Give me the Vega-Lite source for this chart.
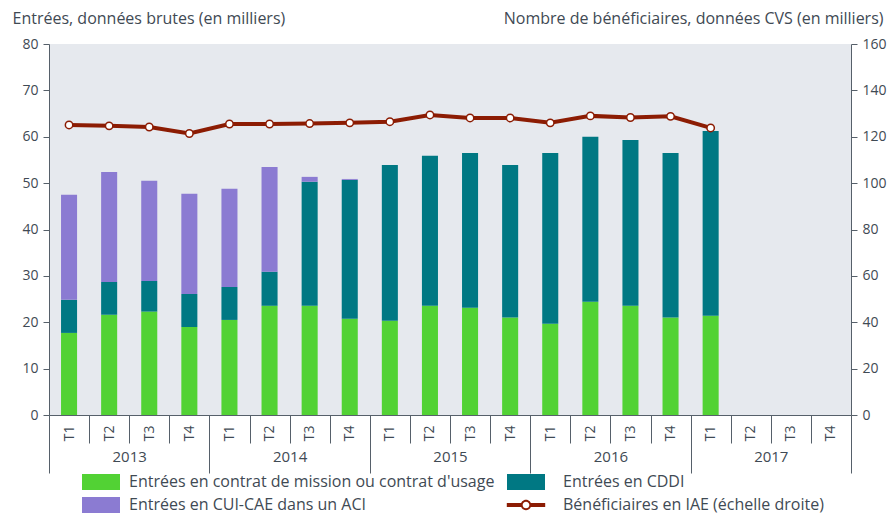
{
  "$schema": "https://vega.github.io/schema/vega-lite/v6.json",
  "width": 802,
  "height": 371,
  "autosize": {"type": "none"},
  "padding": {"left": 49, "top": 44, "right": 42, "bottom": 100},
  "background": "white",
  "config": {
    "font": "Open Sans",
    "view": {"fill": "#e6e9ee", "stroke": null},
    "axis": {
      "labelFont": "Open Sans",
      "labelFontSize": 14,
      "labelColor": "#3f4a54",
      "domainColor": "#56606a",
      "tickColor": "#56606a",
      "grid": false,
      "titleFont": "Open Sans",
      "titleFontSize": 16,
      "titleFontWeight": "normal",
      "titleColor": "#3f4a54"
    }
  },
  "datasets": {
    "entrees": [
      {"annee": "2013", "periode": "2013-T1", "serie": "Entrées en contrat de mission ou contrat d'usage", "ordre": 1, "valeur": 17.7},
      {"annee": "2013", "periode": "2013-T1", "serie": "Entrées en CDDI", "ordre": 2, "valeur": 7.15},
      {"annee": "2013", "periode": "2013-T1", "serie": "Entrées en CUI-CAE dans un ACI", "ordre": 3, "valeur": 22.65},
      {"annee": "2013", "periode": "2013-T2", "serie": "Entrées en contrat de mission ou contrat d'usage", "ordre": 1, "valeur": 21.6},
      {"annee": "2013", "periode": "2013-T2", "serie": "Entrées en CDDI", "ordre": 2, "valeur": 7.1},
      {"annee": "2013", "periode": "2013-T2", "serie": "Entrées en CUI-CAE dans un ACI", "ordre": 3, "valeur": 23.7},
      {"annee": "2013", "periode": "2013-T3", "serie": "Entrées en contrat de mission ou contrat d'usage", "ordre": 1, "valeur": 22.3},
      {"annee": "2013", "periode": "2013-T3", "serie": "Entrées en CDDI", "ordre": 2, "valeur": 6.6},
      {"annee": "2013", "periode": "2013-T3", "serie": "Entrées en CUI-CAE dans un ACI", "ordre": 3, "valeur": 21.6},
      {"annee": "2013", "periode": "2013-T4", "serie": "Entrées en contrat de mission ou contrat d'usage", "ordre": 1, "valeur": 19.0},
      {"annee": "2013", "periode": "2013-T4", "serie": "Entrées en CDDI", "ordre": 2, "valeur": 7.1},
      {"annee": "2013", "periode": "2013-T4", "serie": "Entrées en CUI-CAE dans un ACI", "ordre": 3, "valeur": 21.6},
      {"annee": "2014", "periode": "2014-T1", "serie": "Entrées en contrat de mission ou contrat d'usage", "ordre": 1, "valeur": 20.5},
      {"annee": "2014", "periode": "2014-T1", "serie": "Entrées en CDDI", "ordre": 2, "valeur": 7.1},
      {"annee": "2014", "periode": "2014-T1", "serie": "Entrées en CUI-CAE dans un ACI", "ordre": 3, "valeur": 21.2},
      {"annee": "2014", "periode": "2014-T2", "serie": "Entrées en contrat de mission ou contrat d'usage", "ordre": 1, "valeur": 23.55},
      {"annee": "2014", "periode": "2014-T2", "serie": "Entrées en CDDI", "ordre": 2, "valeur": 7.35},
      {"annee": "2014", "periode": "2014-T2", "serie": "Entrées en CUI-CAE dans un ACI", "ordre": 3, "valeur": 22.6},
      {"annee": "2014", "periode": "2014-T3", "serie": "Entrées en contrat de mission ou contrat d'usage", "ordre": 1, "valeur": 23.55},
      {"annee": "2014", "periode": "2014-T3", "serie": "Entrées en CDDI", "ordre": 2, "valeur": 26.75},
      {"annee": "2014", "periode": "2014-T3", "serie": "Entrées en CUI-CAE dans un ACI", "ordre": 3, "valeur": 1.05},
      {"annee": "2014", "periode": "2014-T4", "serie": "Entrées en contrat de mission ou contrat d'usage", "ordre": 1, "valeur": 20.75},
      {"annee": "2014", "periode": "2014-T4", "serie": "Entrées en CDDI", "ordre": 2, "valeur": 29.95},
      {"annee": "2014", "periode": "2014-T4", "serie": "Entrées en CUI-CAE dans un ACI", "ordre": 3, "valeur": 0.2},
      {"annee": "2015", "periode": "2015-T1", "serie": "Entrées en contrat de mission ou contrat d'usage", "ordre": 1, "valeur": 20.3},
      {"annee": "2015", "periode": "2015-T1", "serie": "Entrées en CDDI", "ordre": 2, "valeur": 33.6},
      {"annee": "2015", "periode": "2015-T2", "serie": "Entrées en contrat de mission ou contrat d'usage", "ordre": 1, "valeur": 23.55},
      {"annee": "2015", "periode": "2015-T2", "serie": "Entrées en CDDI", "ordre": 2, "valeur": 32.35},
      {"annee": "2015", "periode": "2015-T3", "serie": "Entrées en contrat de mission ou contrat d'usage", "ordre": 1, "valeur": 23.1},
      {"annee": "2015", "periode": "2015-T3", "serie": "Entrées en CDDI", "ordre": 2, "valeur": 33.4},
      {"annee": "2015", "periode": "2015-T4", "serie": "Entrées en contrat de mission ou contrat d'usage", "ordre": 1, "valeur": 21.0},
      {"annee": "2015", "periode": "2015-T4", "serie": "Entrées en CDDI", "ordre": 2, "valeur": 32.9},
      {"annee": "2016", "periode": "2016-T1", "serie": "Entrées en contrat de mission ou contrat d'usage", "ordre": 1, "valeur": 19.7},
      {"annee": "2016", "periode": "2016-T1", "serie": "Entrées en CDDI", "ordre": 2, "valeur": 36.8},
      {"annee": "2016", "periode": "2016-T2", "serie": "Entrées en contrat de mission ou contrat d'usage", "ordre": 1, "valeur": 24.4},
      {"annee": "2016", "periode": "2016-T2", "serie": "Entrées en CDDI", "ordre": 2, "valeur": 35.6},
      {"annee": "2016", "periode": "2016-T3", "serie": "Entrées en contrat de mission ou contrat d'usage", "ordre": 1, "valeur": 23.55},
      {"annee": "2016", "periode": "2016-T3", "serie": "Entrées en CDDI", "ordre": 2, "valeur": 35.75},
      {"annee": "2016", "periode": "2016-T4", "serie": "Entrées en contrat de mission ou contrat d'usage", "ordre": 1, "valeur": 21.0},
      {"annee": "2016", "periode": "2016-T4", "serie": "Entrées en CDDI", "ordre": 2, "valeur": 35.5},
      {"annee": "2017", "periode": "2017-T1", "serie": "Entrées en contrat de mission ou contrat d'usage", "ordre": 1, "valeur": 21.4},
      {"annee": "2017", "periode": "2017-T1", "serie": "Entrées en CDDI", "ordre": 2, "valeur": 39.85}
    ],
    "beneficiaires": [
      {"periode": "2013-T1", "valeur": 125.1},
      {"periode": "2013-T2", "valeur": 124.7},
      {"periode": "2013-T3", "valeur": 124.2},
      {"periode": "2013-T4", "valeur": 121.4},
      {"periode": "2014-T1", "valeur": 125.5},
      {"periode": "2014-T2", "valeur": 125.5},
      {"periode": "2014-T3", "valeur": 125.7},
      {"periode": "2014-T4", "valeur": 126.0},
      {"periode": "2015-T1", "valeur": 126.5},
      {"periode": "2015-T2", "valeur": 129.4},
      {"periode": "2015-T3", "valeur": 128.1},
      {"periode": "2015-T4", "valeur": 128.1},
      {"periode": "2016-T1", "valeur": 126.0},
      {"periode": "2016-T2", "valeur": 129.0},
      {"periode": "2016-T3", "valeur": 128.3},
      {"periode": "2016-T4", "valeur": 128.8},
      {"periode": "2017-T1", "valeur": 123.8}
    ],
    "annees": [
      {"annee": "2013"}, {"annee": "2014"}, {"annee": "2015"}, {"annee": "2016"}, {"annee": "2017"}
    ]
  },
  "layer": [
    {
      "layer": [
        {
          "data": {"name": "entrees"},
          "mark": {"type": "bar", "width": {"band": 0.4}},
          "encoding": {
            "x": {
              "field": "periode",
              "type": "nominal",
              "scale": {
                "domain": ["2013-T1","2013-T2","2013-T3","2013-T4","2014-T1","2014-T2","2014-T3","2014-T4","2015-T1","2015-T2","2015-T3","2015-T4","2016-T1","2016-T2","2016-T3","2016-T4","2017-T1","2017-T2","2017-T3","2017-T4"],
                "paddingInner": 0,
                "paddingOuter": 0
              },
              "axis": {
                "orient": "bottom",
                "title": null,
                "labelExpr": "split(datum.label, '-')[1]",
                "labelAngle": -90,
                "tickBand": "extent",
                "tickSize": 28,
                "labelPadding": -18,
                "labelFontSize": 14
              }
            },
            "y": {
              "field": "valeur",
              "type": "quantitative",
              "stack": "zero",
              "scale": {"domain": [0, 80], "nice": false},
              "axis": {
                "orient": "left",
                "values": [0, 10, 20, 30, 40, 50, 60, 70, 80],
                "title": "Entrées, données brutes (en milliers)",
                "titleAngle": 0,
                "titleAlign": "left",
                "titleBaseline": "alphabetic",
                "titleX": -37,
                "titleY": -21,
                "tickSize": 6,
                "labelPadding": 5,
                "labelFontSize": 14
              }
            },
            "color": {
              "field": "serie",
              "type": "nominal",
              "scale": {
                "domain": ["Entrées en contrat de mission ou contrat d'usage", "Entrées en CDDI", "Entrées en CUI-CAE dans un ACI", "Bénéficiaires en IAE (échelle droite)"],
                "range": ["#52d234", "#007883", "#8b7bd2", "#8c1c03"]
              },
              "legend": {
                "orient": "none",
                "legendX": 44,
                "legendY": 430,
                "title": null,
                "columns": 2,
                "direction": "horizontal",
                "symbolSize": 256,
                "labelFont": "Open Sans",
                "labelFontSize": 16,
                "labelColor": "#3f4a54",
                "labelOffset": 20,
                "columnPadding": 11,
                "rowPadding": 7,
                "labelLimit": 500,
                "padding": 0,
                "encode": {
                  "symbols": {
                    "update": {
                      "shape": {"signal": "datum.value === 'Bénéficiaires en IAE (échelle droite)' ? 'M-2.4,-0.25H-0.55V0.25H-2.4Z M0.55,-0.25H2.4V0.25H0.55Z M-0.65,0A0.65,0.65 0 1,1 0.65,0A0.65,0.65 0 1,1 -0.65,0Z M-0.42,0A0.42,0.42 0 1,0 0.42,0A0.42,0.42 0 1,0 -0.42,0Z' : 'M-2.375,-1H2.375V1H-2.375Z'"},
                      "stroke": {"value": "transparent"},
                      "strokeWidth": {"value": 0},
                      "opacity": {"value": 1}
                    }
                  },
                  "labels": {
                    "update": {
                      "dx": {"signal": "datum.index % 2 === 1 ? 9 : 0"}
                    }
                  }
                }
              }
            },
            "order": {"field": "ordre", "type": "quantitative", "sort": "ascending"}
          }
        },
        {
          "data": {"name": "beneficiaires"},
          "mark": {
            "type": "line",
            "color": "#8c1c03",
            "strokeWidth": 4,
            "point": {"filled": true, "fill": "white", "stroke": "#8c1c03", "strokeWidth": 1.5, "size": 55, "opacity": 1}
          },
          "encoding": {
            "x": {"field": "periode", "type": "nominal"},
            "y": {
              "field": "valeur",
              "type": "quantitative",
              "scale": {"domain": [0, 160], "nice": false},
              "axis": {
                "orient": "right",
                "values": [0, 20, 40, 60, 80, 100, 120, 140, 160],
                "title": "Nombre de bénéficiaires, données CVS (en milliers)",
                "titleAngle": 0,
                "titleAlign": "right",
                "titleBaseline": "alphabetic",
                "titleX": 32,
                "titleY": -21,
                "tickSize": 6,
                "labelPadding": 5,
                "labelFontSize": 14
              }
            }
          }
        }
      ],
      "resolve": {"scale": {"y": "independent"}}
    },
    {
      "data": {"name": "annees"},
      "mark": {"type": "rule", "opacity": 0},
      "encoding": {
        "x": {
          "field": "annee",
          "type": "nominal",
          "scale": {"type": "band", "paddingInner": 0, "paddingOuter": 0},
          "axis": {
            "orient": "bottom",
            "title": null,
            "domain": false,
            "tickBand": "extent",
            "tickSize": 58,
            "labelPadding": -24,
            "labelAngle": 0,
            "labelFontSize": 15
          }
        }
      }
    }
  ],
  "resolve": {"scale": {"x": "independent", "y": "independent"}}
}
